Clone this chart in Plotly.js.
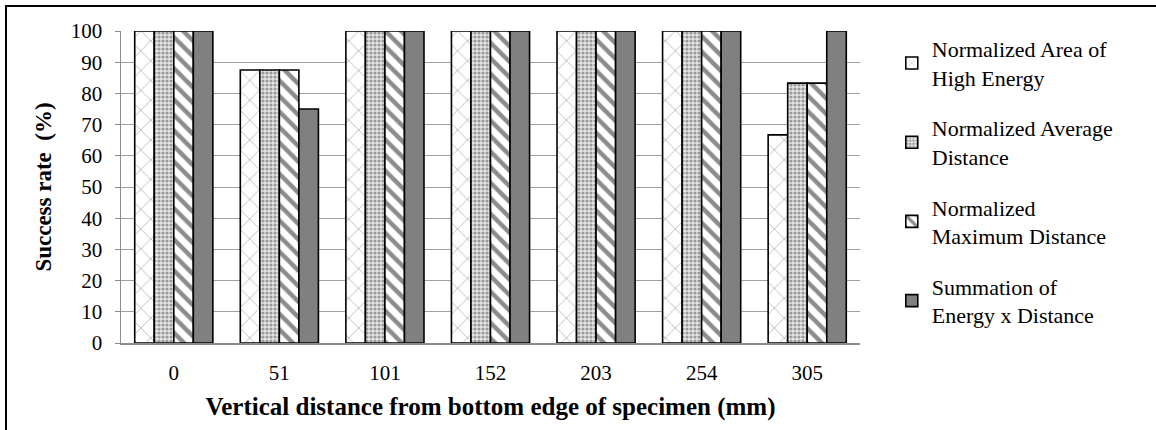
<!DOCTYPE html>
<html><head><meta charset="utf-8">
<script src="https://cdn.plot.ly/plotly-3.0.1.min.js"></script>
<style>
body{margin:0;padding:0;background:#fff;}
#frame{position:absolute;left:5px;top:5px;width:1160px;height:440px;border:2px solid #000;box-sizing:border-box;}
#chart{position:absolute;left:0;top:0;width:1156px;height:430px;}
</style></head>
<body>
<div id="frame"></div>
<div id="chart"></div>
<script>
const categories = ['0','51','101','152','203','254','305'];
const seriesNames = ['Normalized Area of<br>High Energy','Normalized Average<br>Distance','Normalized<br>Maximum Distance','Summation of<br>Energy x Distance'];
const areaHighEnergy = [100, 87.5, 100, 100, 100, 100, 66.7];
const avgDistance = [100, 87.5, 100, 100, 100, 100, 83.3];
const maxDistance = [100, 87.5, 100, 100, 100, 100, 83.3];
const sumEnergyDistance = [100, 75, 100, 100, 100, 100, 100];
const yTicks = [0,10,20,30,40,50,60,70,80,90,100];

const values = [areaHighEnergy, avgDistance, maxDistance, sumEnergyDistance];
const patterns = [
  {shape:'x', fgcolor:'#b8b8b8', bgcolor:'#ffffff', size:14, solidity:0.12},
  {shape:'.', fgcolor:'#9a9a9a', bgcolor:'#e6e6e6', size:4, solidity:0.5},
  {shape:'\\', fgcolor:'#8c8c8c', bgcolor:'#ffffff', size:11, solidity:0.4},
  {shape:'', fgcolor:'#808080', bgcolor:'#808080', size:8, solidity:1}
];
const fills = ['#ffffff','#e6e6e6','#ffffff','#808080'];

const traces = values.map((v,i)=>({
  type:'bar', x:categories, y:v, name:seriesNames[i], legendgroup:'g'+i,
  marker:{color:fills[i], line:{color:'#000', width:1.6}, pattern:patterns[i]}
}));

const serif = 'Liberation Serif';
const layout = {
  width:1156, height:430,
  margin:{l:121, r:296, t:31, b:87},
  paper_bgcolor:'rgba(0,0,0,0)', plot_bgcolor:'#fff',
  barmode:'group', bargap:0.26, bargroupgap:0,
  font:{family:serif, color:'#000', size:21},
  xaxis:{type:'category', showline:true, linecolor:'#8c8c8c', linewidth:1.5, ticks:'',
    tickfont:{family:serif, size:21, color:'#000'}, ticklen:0, ticklabelstandoff:10,
    title:{text:'<b>Vertical distance from bottom edge of specimen (mm)</b>', font:{family:serif, size:25, color:'#000'}, standoff:14}},
  yaxis:{range:[0,100], tickvals:yTicks, showgrid:true, gridcolor:'#a0a0a0', gridwidth:1,
    showline:true, linecolor:'#8c8c8c', linewidth:1.5, ticks:'outside', ticklen:5, tickcolor:'#8c8c8c',
    tickfont:{family:serif, size:21, color:'#000'}, zeroline:false, ticklabelstandoff:8,
    title:{text:'<b>Success rate  (%)</b>', font:{family:serif, size:23, color:'#000'}, standoff:12}},
  legend:{x:1.043, xanchor:'left', y:1.01, yanchor:'top', font:{family:serif, size:22, color:'#000'}, tracegroupgap:19,
    itemwidth:30, bgcolor:'rgba(0,0,0,0)', maxheight:420},
  showlegend:true
};
Plotly.newPlot('chart', traces, layout, {displayModeBar:false, staticPlot:true});
</script>
</body></html>
